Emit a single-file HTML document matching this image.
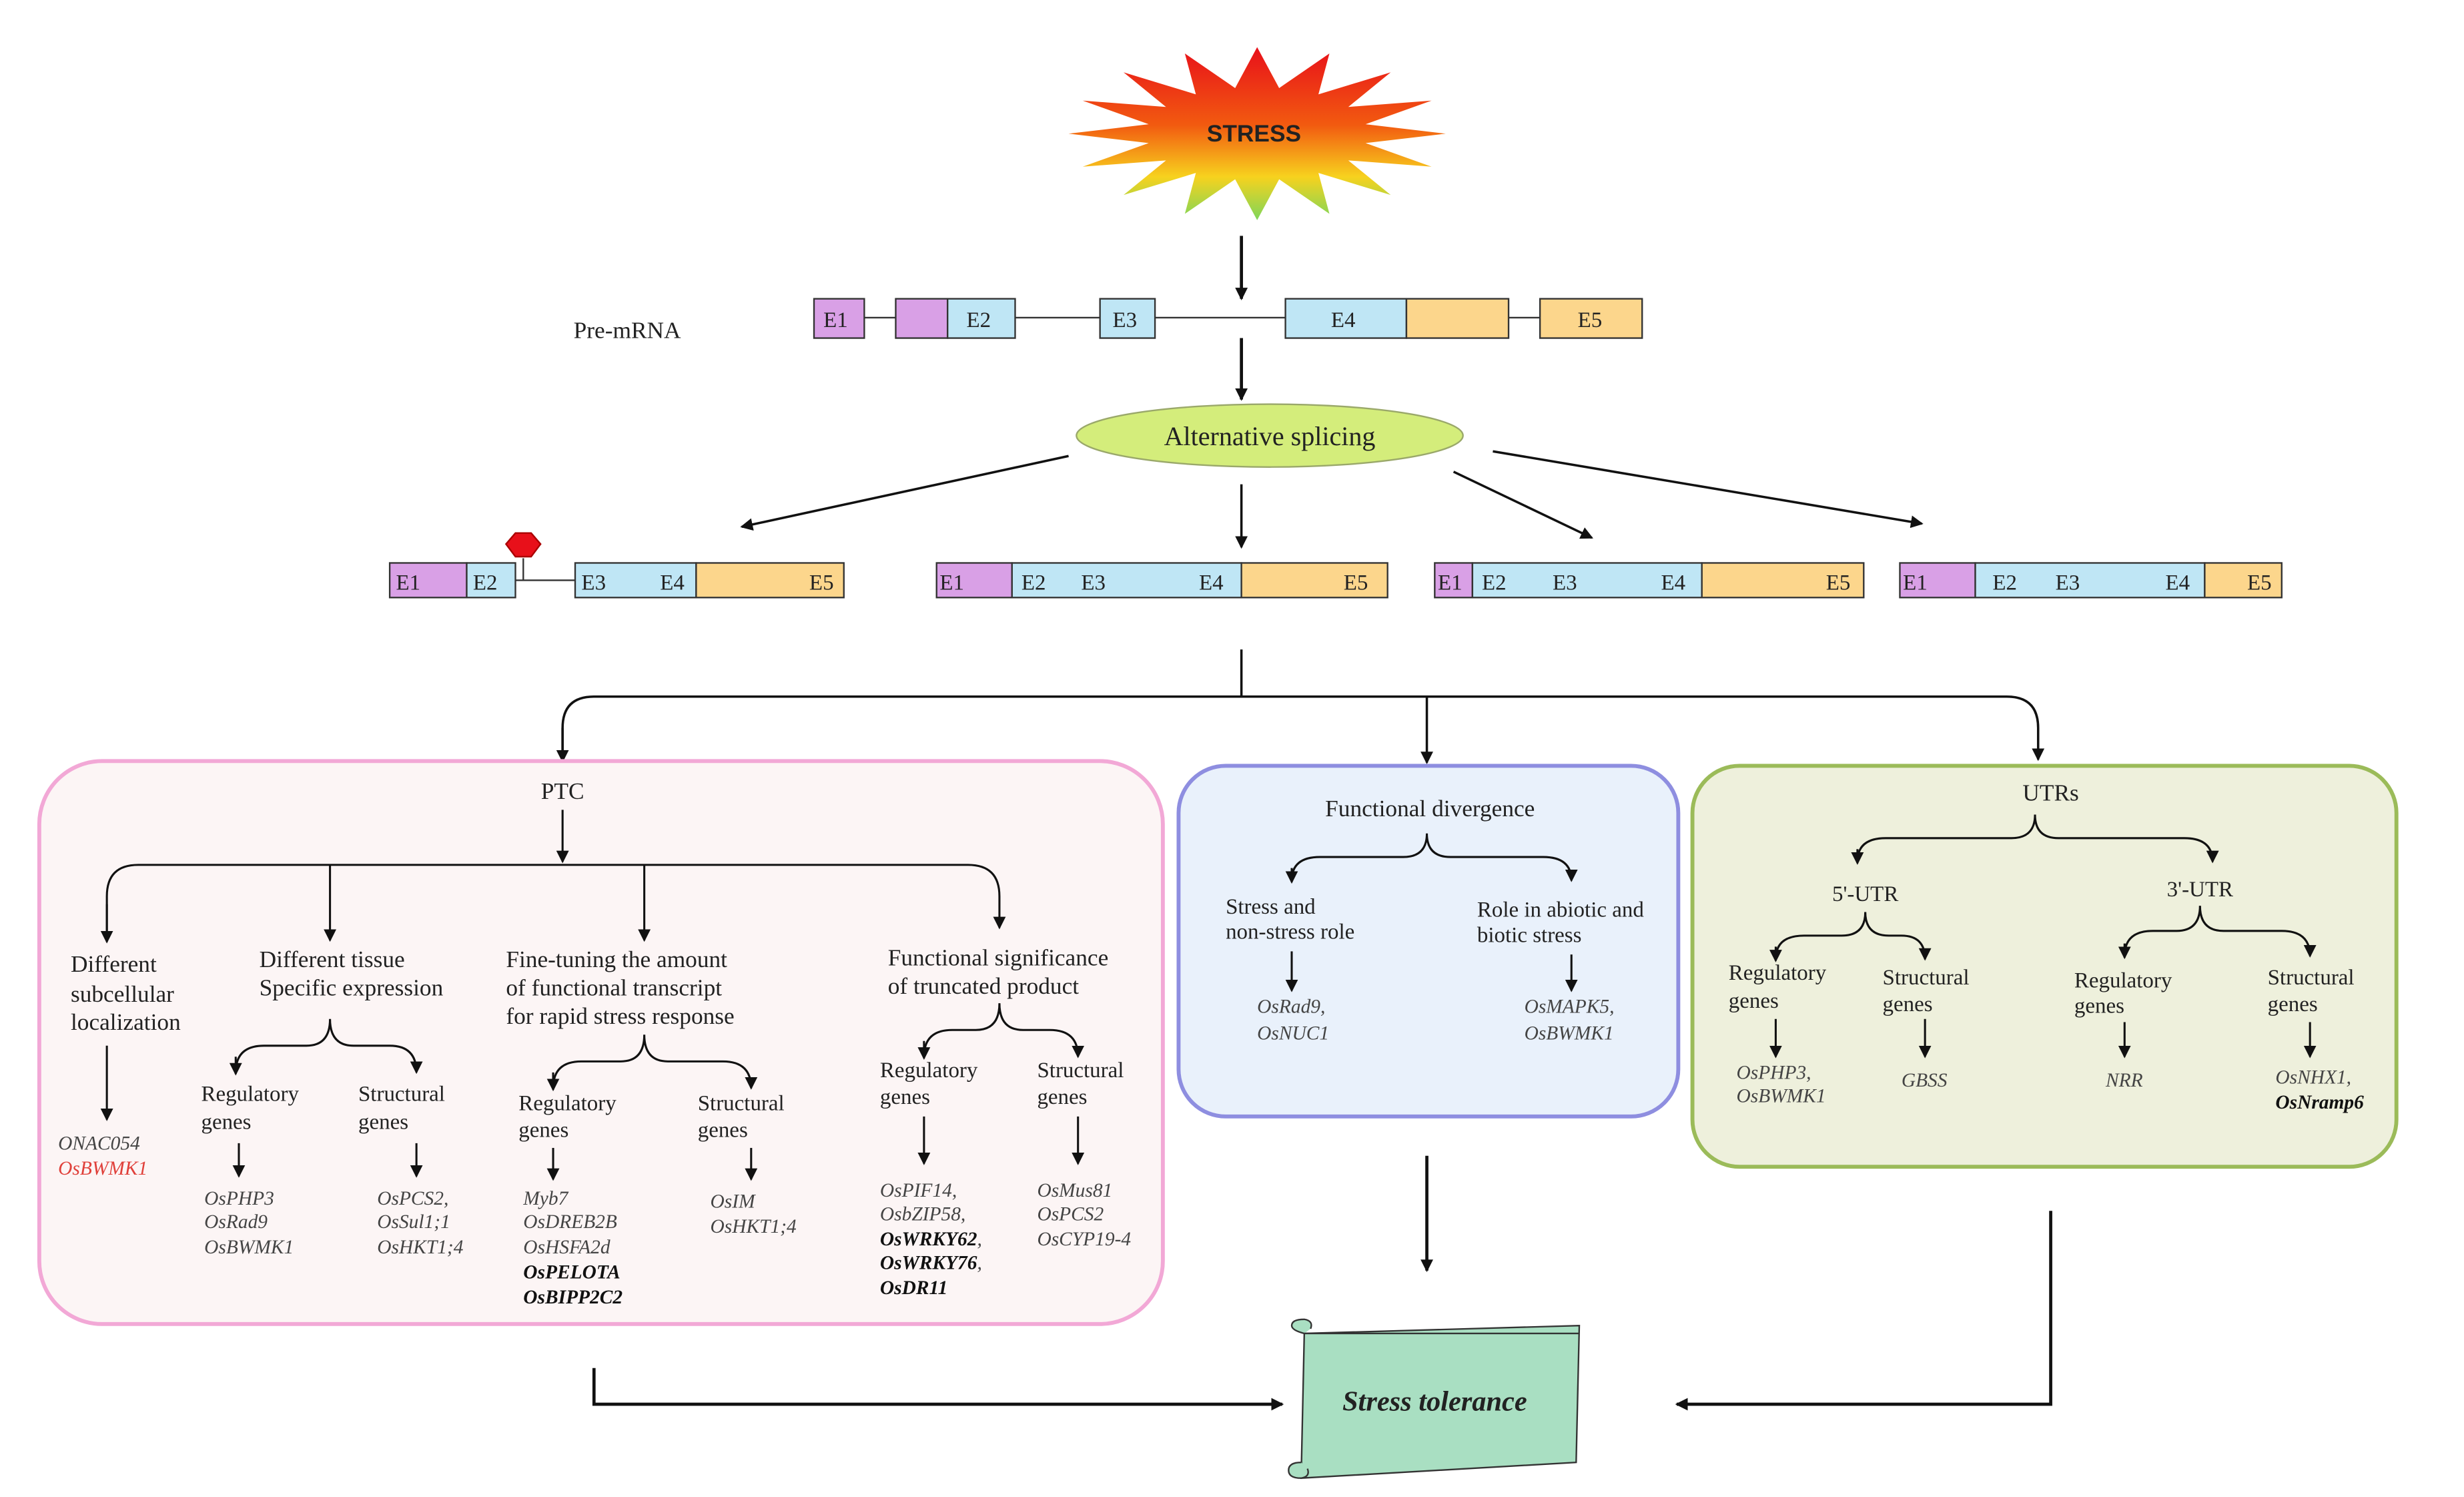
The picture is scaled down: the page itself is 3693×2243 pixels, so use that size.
<!DOCTYPE html>
<html><head><meta charset="utf-8"><style>
html,body{margin:0;padding:0;background:#fff;}
svg{display:block;}
text{font-family:"Liberation Serif",serif;fill:#222;}
.g{font-style:italic;fill:#444;font-size:12.5px;}
.b{font-weight:bold;fill:#111;}
.l{font-size:15px;}
.e{font-size:14px;}
</style></head><body>
<svg width="3693" height="2243" viewBox="0 0 1568 952" preserveAspectRatio="none" xmlns="http://www.w3.org/2000/svg">
<defs>
<linearGradient id="sg" x1="0" y1="0" x2="0" y2="1">
<stop offset="0" stop-color="#e8101a"/><stop offset="0.45" stop-color="#f25a10"/><stop offset="0.75" stop-color="#f7d21e"/><stop offset="1" stop-color="#7fd65a"/></linearGradient>
<marker id="a" markerWidth="8" markerHeight="8" refX="7" refY="4" orient="auto" markerUnits="userSpaceOnUse"><path d="M0,0 L8,4 L0,8 Z" fill="#111"/></marker>
</defs>
<rect width="1568" height="952" fill="#fff"/>
<!-- Stress -->
<polygon fill="url(#sg)" points="920,85 869,91 911,106 858,102 885,124 839,110 846,136 814,114 800,140 786,114 754,136 761,110 715,124 742,102 689,106 731,91 680,85 731,79 689,64 742,68 715,46 761,60 754,34 786,56 800,30 814,56 846,34 839,60 885,46 858,68 911,64 869,79"/>
<text x="798" y="90" text-anchor="middle" style="font-family:'Liberation Sans',sans-serif;font-weight:bold;font-size:15px">STRESS</text>
<g stroke="#111" stroke-width="2" fill="none">
<line x1="790" y1="150" x2="790" y2="190" marker-end="url(#a)"/>
<line x1="790" y1="215" x2="790" y2="254" marker-end="url(#a)"/>
<line x1="680" y1="290" x2="472" y2="335" stroke-width="1.5" marker-end="url(#a)"/>
<line x1="790" y1="308" x2="790" y2="348" stroke-width="1.5" marker-end="url(#a)"/>
<line x1="925" y1="300" x2="1013" y2="342" stroke-width="1.5" marker-end="url(#a)"/>
<line x1="950" y1="287" x2="1223" y2="333" stroke-width="1.5" marker-end="url(#a)"/>
</g>
<text x="365" y="215" class="l">Pre-mRNA</text>
<!-- pre-mRNA -->
<g stroke="#333" stroke-width="1">
<line x1="550" y1="202" x2="570" y2="202"/><line x1="646" y1="202" x2="700" y2="202"/><line x1="735" y1="202" x2="818" y2="202"/><line x1="960" y1="202" x2="980" y2="202"/>
<rect x="518" y="190" width="32" height="25" fill="#d9a0e6"/>
<rect x="570" y="190" width="33" height="25" fill="#d9a0e6"/>
<rect x="603" y="190" width="43" height="25" fill="#bfe6f5"/>
<rect x="700" y="190" width="35" height="25" fill="#bfe6f5"/>
<rect x="818" y="190" width="77" height="25" fill="#bfe6f5"/>
<rect x="895" y="190" width="65" height="25" fill="#fcd68c"/>
<rect x="980" y="190" width="65" height="25" fill="#fcd68c"/>
</g>
<g class="e"><text x="524" y="208">E1</text><text x="615" y="208">E2</text><text x="708" y="208">E3</text><text x="847" y="208">E4</text><text x="1004" y="208">E5</text></g>
<ellipse cx="808" cy="277" rx="123" ry="20" fill="#d4ed7b" stroke="#9aa86a"/>
<text x="808" y="283" text-anchor="middle" style="font-size:17px">Alternative splicing</text>
<!-- transcripts -->
<g stroke="#333" stroke-width="1">
<line x1="328" y1="369" x2="366" y2="369"/><line x1="333" y1="355" x2="333" y2="369"/>
<rect x="248" y="358" width="49" height="22" fill="#d9a0e6"/><rect x="297" y="358" width="31" height="22" fill="#bfe6f5"/>
<rect x="366" y="358" width="77" height="22" fill="#bfe6f5"/><rect x="443" y="358" width="94" height="22" fill="#fcd68c"/>
<polygon points="328,339 338,339 344,346 338,354 328,354 322,346" fill="#e8101a" stroke="#a00"/>
<rect x="596" y="358" width="48" height="22" fill="#d9a0e6"/><rect x="644" y="358" width="146" height="22" fill="#bfe6f5"/><rect x="790" y="358" width="93" height="22" fill="#fcd68c"/>
<rect x="913" y="358" width="24" height="22" fill="#d9a0e6"/><rect x="937" y="358" width="146" height="22" fill="#bfe6f5"/><rect x="1083" y="358" width="103" height="22" fill="#fcd68c"/>
<rect x="1209" y="358" width="48" height="22" fill="#d9a0e6"/><rect x="1257" y="358" width="146" height="22" fill="#bfe6f5"/><rect x="1403" y="358" width="49" height="22" fill="#fcd68c"/>
</g>
<g class="e">
<text x="252" y="375">E1</text><text x="301" y="375">E2</text><text x="370" y="375">E3</text><text x="420" y="375">E4</text><text x="515" y="375">E5</text>
<text x="598" y="375">E1</text><text x="650" y="375">E2</text><text x="688" y="375">E3</text><text x="763" y="375">E4</text><text x="855" y="375">E5</text>
<text x="915" y="375">E1</text><text x="943" y="375">E2</text><text x="988" y="375">E3</text><text x="1057" y="375">E4</text><text x="1162" y="375">E5</text>
<text x="1211" y="375">E1</text><text x="1268" y="375">E2</text><text x="1308" y="375">E3</text><text x="1378" y="375">E4</text><text x="1430" y="375">E5</text>
</g>
<!-- splitter -->
<g stroke="#111" stroke-width="1.5" fill="none">
<line x1="790" y1="413" x2="790" y2="443"/>
<path d="M358,483 L358,463 Q358,443 378,443 L1277,443 Q1297,443 1297,463 L1297,483" marker-end="url(#a)"/>
<path d="M358,463 L358,484" marker-end="url(#a)"/>
<line x1="908" y1="443" x2="908" y2="485" marker-end="url(#a)"/>
</g>
<!-- boxes -->
<rect x="25" y="484" width="715" height="358" rx="40" fill="#fcf5f5" stroke="#f2a8d6" stroke-width="2.5"/>
<rect x="750" y="487" width="318" height="223" rx="30" fill="#e9f1fb" stroke="#8e8ee0" stroke-width="2.5"/>
<rect x="1077" y="487" width="448" height="255" rx="30" fill="#eef0dc" stroke="#9bbb59" stroke-width="2.5"/>
<!-- PTC -->
<text x="358" y="508" text-anchor="middle" class="l">PTC</text>
<g stroke="#111" stroke-width="1.3" fill="none">
<line x1="358" y1="515" x2="358" y2="548" marker-end="url(#a)"/>
<path d="M68,598 L68,570 Q68,550 88,550 L616,550 Q636,550 636,570 L636,590" marker-end="url(#a)"/>
<line x1="68" y1="575" x2="68" y2="599" marker-end="url(#a)"/>
<line x1="210" y1="550" x2="210" y2="598" marker-end="url(#a)"/>
<line x1="410" y1="550" x2="410" y2="598" marker-end="url(#a)"/>
<line x1="68" y1="665" x2="68" y2="712" marker-end="url(#a)"/>
<!-- braces -->
<path d="M150,682 Q150,665 168,665 L195,665 Q210,665 210,648 Q210,665 225,665 L248,665 Q265,665 265,682" marker-end="url(#a)"/>
<path d="M150,672 L150,683" marker-end="url(#a)"/>
<line x1="152" y1="727" x2="152" y2="748" marker-end="url(#a)"/>
<line x1="265" y1="727" x2="265" y2="748" marker-end="url(#a)"/>
<path d="M352,692 Q352,675 370,675 L395,675 Q410,675 410,658 Q410,675 425,675 L460,675 Q478,675 478,692" marker-end="url(#a)"/>
<path d="M352,682 L352,693" marker-end="url(#a)"/>
<line x1="352" y1="730" x2="352" y2="750" marker-end="url(#a)"/>
<line x1="478" y1="730" x2="478" y2="750" marker-end="url(#a)"/>
<path d="M588,672 Q588,655 606,655 L621,655 Q636,655 636,638 Q636,655 651,655 L668,655 Q686,655 686,672" marker-end="url(#a)"/>
<path d="M588,662 L588,673" marker-end="url(#a)"/>
<line x1="588" y1="710" x2="588" y2="740" marker-end="url(#a)"/>
<line x1="686" y1="710" x2="686" y2="740" marker-end="url(#a)"/>
</g>
<g class="l">
<text x="45" y="618">Different</text><text x="45" y="637">subcellular</text><text x="45" y="655">localization</text>
<text x="165" y="615">Different tissue</text><text x="165" y="633">Specific expression</text>
<text x="322" y="615">Fine-tuning the amount</text><text x="322" y="633">of functional transcript</text><text x="322" y="651">for rapid stress response</text>
<text x="565" y="614">Functional significance</text><text x="565" y="632">of truncated product</text>
</g>
<g style="font-size:14px">
<text x="128" y="700">Regulatory</text><text x="128" y="718">genes</text>
<text x="228" y="700">Structural</text><text x="228" y="718">genes</text>
<text x="330" y="706">Regulatory</text><text x="330" y="723">genes</text>
<text x="444" y="706">Structural</text><text x="444" y="723">genes</text>
<text x="560" y="685">Regulatory</text><text x="560" y="702">genes</text>
<text x="660" y="685">Structural</text><text x="660" y="702">genes</text>
</g>
<text x="37" y="731" class="g">ONAC054</text><text x="37" y="747" class="g" style="fill:#e0403a">OsBWMK1</text>
<text x="130" y="766" class="g">OsPHP3</text><text x="130" y="781" class="g">OsRad9</text><text x="130" y="797" class="g">OsBWMK1</text>
<text x="240" y="766" class="g">OsPCS2,</text><text x="240" y="781" class="g">OsSul1;1</text><text x="240" y="797" class="g">OsHKT1;4</text>
<text x="333" y="766" class="g">Myb7</text><text x="333" y="781" class="g">OsDREB2B</text><text x="333" y="797" class="g">OsHSFA2d</text>
<text x="333" y="813" class="g b">OsPELOTA</text><text x="333" y="829" class="g b">OsBIPP2C2</text>
<text x="452" y="768" class="g">OsIM</text><text x="452" y="784" class="g">OsHKT1;4</text>
<text x="560" y="761" class="g">OsPIF14,</text><text x="560" y="776" class="g">OsbZIP58,</text>
<text x="560" y="792" class="g b">OsWRKY62<tspan style="font-weight:normal;fill:#444">,</tspan></text>
<text x="560" y="807" class="g b">OsWRKY76<tspan style="font-weight:normal;fill:#444">,</tspan></text>
<text x="560" y="823" class="g b">OsDR11</text>
<text x="660" y="761" class="g">OsMus81</text><text x="660" y="776" class="g">OsPCS2</text><text x="660" y="792" class="g">OsCYP19-4</text>
<!-- Functional divergence -->
<text x="910" y="519" text-anchor="middle" class="l">Functional divergence</text>
<g stroke="#111" stroke-width="1.3" fill="none">
<path d="M822,560 Q822,545 840,545 L893,545 Q908,545 908,530 Q908,545 923,545 L982,545 Q1000,545 1000,560" marker-end="url(#a)"/>
<path d="M822,552 L822,561" marker-end="url(#a)"/>
<line x1="822" y1="605" x2="822" y2="630" marker-end="url(#a)"/>
<line x1="1000" y1="607" x2="1000" y2="630" marker-end="url(#a)"/>
</g>
<g style="font-size:14px"><text x="780" y="581">Stress and</text><text x="780" y="597">non-stress role</text>
<text x="940" y="583">Role in abiotic and</text><text x="940" y="599">biotic stress</text></g>
<text x="800" y="644" class="g">OsRad9,</text><text x="800" y="661" class="g">OsNUC1</text>
<text x="970" y="644" class="g">OsMAPK5,</text><text x="970" y="661" class="g">OsBWMK1</text>
<!-- UTRs -->
<text x="1305" y="509" text-anchor="middle" class="l">UTRs</text>
<g stroke="#111" stroke-width="1.3" fill="none">
<path d="M1182,548 Q1182,533 1200,533 L1280,533 Q1295,533 1295,518 Q1295,533 1310,533 L1390,533 Q1408,533 1408,548" marker-end="url(#a)"/>
<path d="M1182,540 L1182,549" marker-end="url(#a)"/>
<path d="M1130,610 Q1130,595 1148,595 L1172,595 Q1187,595 1187,580 Q1187,595 1202,595 L1210,595 Q1225,595 1225,610" marker-end="url(#a)"/>
<path d="M1130,602 L1130,611" marker-end="url(#a)"/>
<path d="M1352,608 Q1352,592 1370,592 L1385,592 Q1400,592 1400,576 Q1400,592 1415,592 L1452,592 Q1470,592 1470,608" marker-end="url(#a)"/>
<path d="M1352,600 L1352,609" marker-end="url(#a)"/>
<line x1="1130" y1="648" x2="1130" y2="672" marker-end="url(#a)"/>
<line x1="1225" y1="648" x2="1225" y2="672" marker-end="url(#a)"/>
<line x1="1352" y1="650" x2="1352" y2="672" marker-end="url(#a)"/>
<line x1="1470" y1="650" x2="1470" y2="672" marker-end="url(#a)"/>
</g>
<text x="1187" y="573" text-anchor="middle" style="font-size:14px">5'-UTR</text>
<text x="1400" y="570" text-anchor="middle" style="font-size:14px">3'-UTR</text>
<g style="font-size:14px">
<text x="1100" y="623">Regulatory</text><text x="1100" y="641">genes</text>
<text x="1198" y="626">Structural</text><text x="1198" y="643">genes</text>
<text x="1320" y="628">Regulatory</text><text x="1320" y="644">genes</text>
<text x="1443" y="626">Structural</text><text x="1443" y="643">genes</text>
</g>
<text x="1105" y="686" class="g">OsPHP3,</text><text x="1105" y="701" class="g">OsBWMK1</text>
<text x="1210" y="691" class="g">GBSS</text>
<text x="1340" y="691" class="g">NRR</text>
<text x="1448" y="689" class="g">OsNHX1,</text><text x="1448" y="705" class="g b">OsNramp6</text>
<!-- bottom arrows -->
<g stroke="#111" stroke-width="2" fill="none">
<path d="M378,870 L378,893 L816,893" marker-end="url(#a)"/>
<line x1="908" y1="735" x2="908" y2="808" marker-end="url(#a)"/>
<path d="M1305,770 L1305,893 L1067,893" marker-end="url(#a)"/>
</g>
<!-- scroll -->
<g stroke="#333" stroke-width="1">
<path d="M830,848 L1005,843 L1003,930 L828,940 Z" fill="#a9dfc2"/>
<path d="M830,848 q-8,-2 -8,-5 q0,-4 8,-4 q6,1 4,6" fill="#a9dfc2"/>
<path d="M828,930 q-8,0 -8,5 q0,5 8,5 q6,-1 4,-6" fill="#a9dfc2"/>
<line x1="830" y1="848" x2="1005" y2="848"/>
</g>
<text x="913" y="897" text-anchor="middle" style="font-size:18px;font-style:italic;font-weight:bold">Stress tolerance</text>
</svg>
</body></html>
